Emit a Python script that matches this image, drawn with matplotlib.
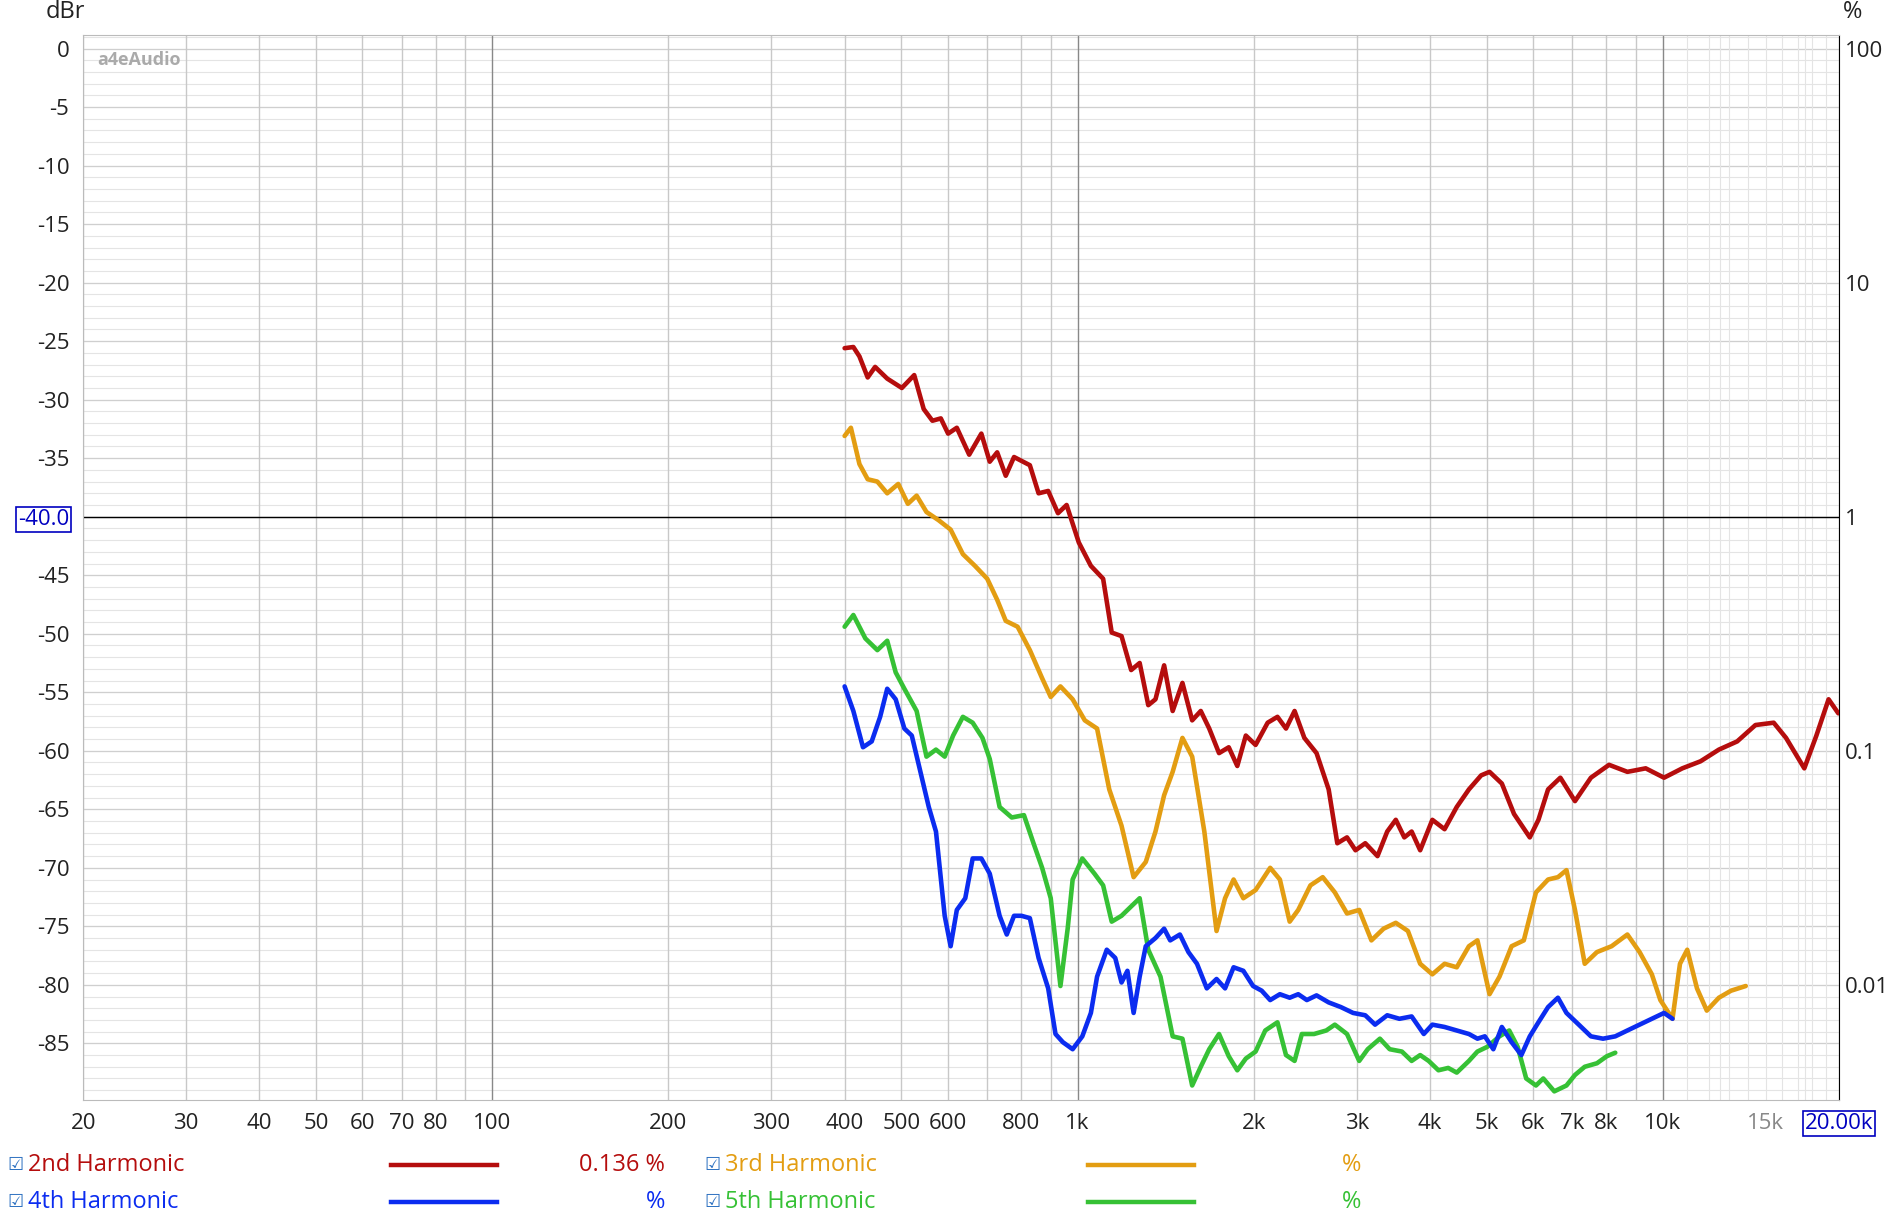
import matplotlib.pyplot as plt
import numpy as np
from matplotlib.ticker import FixedLocator, NullLocator

# harmonic distortion readings (Hz, dBr)
h2_freq = [400, 414, 424, 438, 451, 473, 501, 526, 546, 565, 584, 601, 622, 653, 685, 708, 729, 754, 779, 829,
           858, 891, 926, 958, 1005, 1054, 1106, 1144, 1189, 1235, 1277, 1321, 1359, 1406, 1454, 1511, 1570, 1624, 1679, 1745,
           1813, 1875, 1939, 2015, 2113, 2196, 2271, 2349, 2441, 2561, 2686, 2779, 2887, 2985, 3102, 3255, 3382, 3498, 3617, 3723,
           3850, 4039, 4238, 4446, 4664, 4894, 5058, 5309, 5570, 5926, 6131, 6368, 6683, 7079, 7537, 8095, 8700, 9350, 10050, 10800,
           11600, 12470, 13400, 14400, 15470, 16240, 17450, 18300, 19200, 19950]
h2_db = [-25.6, -25.5, -26.3, -28.1, -27.2, -28.2, -29.0, -27.9, -30.8, -31.8, -31.6, -32.9, -32.4, -34.7, -32.9, -35.3, -34.5, -36.5, -34.9, -35.6,
         -38.0, -37.8, -39.7, -39.0, -42.2, -44.2, -45.3, -49.9, -50.2, -53.1, -52.5, -56.1, -55.6, -52.7, -56.6, -54.2, -57.4, -56.6, -58.1, -60.2,
         -59.7, -61.3, -58.7, -59.5, -57.6, -57.1, -58.1, -56.6, -58.9, -60.2, -63.3, -67.9, -67.4, -68.5, -67.9, -69.0, -66.9, -65.9, -67.4, -66.9,
         -68.5, -65.9, -66.7, -64.8, -63.3, -62.1, -61.8, -62.8, -65.4, -67.4, -65.9, -63.3, -62.3, -64.3, -62.3, -61.2, -61.8, -61.5, -62.3, -61.5,
         -60.9, -59.9, -59.2, -57.8, -57.6, -58.9, -61.5, -58.7, -55.6, -56.8]

h3_freq = [400, 410, 424, 438, 455, 473, 494, 513, 531, 552, 579, 607, 637, 668, 701, 729, 754, 790, 829, 870,
           900, 935, 981, 1029, 1080, 1133, 1189, 1247, 1308, 1359, 1406, 1454, 1511, 1570, 1647, 1728, 1787, 1848, 1920, 2015,
           2134, 2217, 2304, 2383, 2500, 2624, 2752, 2887, 3029, 3178, 3334, 3498, 3669, 3850, 4039, 4238, 4446, 4664, 4823, 5058,
           5260, 5517, 5788, 6072, 6368, 6620, 6846, 7079, 7356, 7718, 8176, 8700, 9128, 9578, 9904, 10390, 10700, 11010, 11440, 11890,
           12470, 13080, 13860]
h3_db = [-33.1, -32.4, -35.5, -36.8, -37.0, -38.0, -37.2, -38.9, -38.2, -39.6, -40.3, -41.1, -43.2, -44.2, -45.3, -47.1, -48.9, -49.4, -51.4, -53.8,
         -55.4, -54.5, -55.6, -57.4, -58.1, -63.3, -66.4, -70.8, -69.5, -66.9, -63.8, -61.8, -58.9, -60.5, -66.9, -75.4, -72.6, -71.0, -72.6, -71.9,
         -70.0, -71.0, -74.6, -73.6, -71.5, -70.8, -72.1, -73.9, -73.6, -76.2, -75.2, -74.7, -75.4, -78.2, -79.1, -78.2, -78.5, -76.7, -76.2, -80.8,
         -79.3, -76.7, -76.2, -72.1, -71.0, -70.8, -70.2, -73.6, -78.2, -77.2, -76.7, -75.7, -77.2, -79.1, -81.3, -82.9, -78.2, -77.0, -80.3, -82.2,
         -81.1, -80.5, -80.1]

h4_freq = [400, 414, 430, 445, 460, 473, 489, 506, 521, 539, 557, 573, 593, 607, 622, 643, 662, 685, 708, 736,
           757, 779, 802, 829, 858, 891, 917, 944, 981, 1019, 1054, 1080, 1122, 1160, 1189, 1217, 1247, 1277, 1308, 1359,
           1406, 1440, 1496, 1547, 1600, 1663, 1728, 1787, 1848, 1920, 1995, 2064, 2134, 2217, 2304, 2383, 2465, 2561, 2686, 2818,
           2957, 3102, 3224, 3382, 3548, 3723, 3905, 4039, 4238, 4446, 4664, 4823, 4965, 5134, 5309, 5517, 5733, 5926, 6131, 6368,
           6620, 6846, 7185, 7537, 7905, 8295, 8700, 9128, 9578, 10050, 10390]
h4_db = [-54.5, -56.6, -59.7, -59.2, -57.1, -54.7, -55.6, -58.1, -58.7, -61.8, -64.8, -66.9, -74.1, -76.7, -73.6, -72.6, -69.2, -69.2, -70.5, -74.1,
         -75.7, -74.1, -74.1, -74.3, -77.7, -80.3, -84.2, -84.9, -85.5, -84.4, -82.4, -79.3, -77.0, -77.7, -79.8, -78.8, -82.4, -79.3, -76.7, -76.0,
         -75.2, -76.2, -75.7, -77.2, -78.2, -80.3, -79.5, -80.3, -78.5, -78.8, -80.1, -80.5, -81.3, -80.8, -81.1, -80.8, -81.3, -80.9, -81.5, -81.9,
         -82.4, -82.6, -83.4, -82.6, -82.9, -82.7, -84.2, -83.4, -83.6, -83.9, -84.2, -84.6, -84.4, -85.5, -83.6, -84.9, -86.0, -84.4, -83.2, -81.9,
         -81.1, -82.4, -83.4, -84.4, -84.6, -84.4, -83.9, -83.4, -82.9, -82.4, -82.9]

h5_freq = [400, 414, 434, 455, 473, 489, 506, 531, 552, 573, 593, 613, 637, 662, 688, 708, 736, 772, 810, 841,
           870, 900, 935, 962, 981, 1019, 1069, 1106, 1144, 1189, 1235, 1277, 1321, 1386, 1454, 1511, 1570, 1624, 1679, 1745,
           1813, 1875, 1939, 2015, 2093, 2196, 2271, 2349, 2417, 2536, 2661, 2752, 2887, 3029, 3132, 3286, 3415, 3583, 3723, 3850,
           3981, 4137, 4299, 4446, 4664, 4823, 5012, 5260, 5465, 5650, 5843, 6072, 6249, 6526, 6846, 7079, 7356, 7718, 8023, 8295]
h5_db = [-49.4, -48.4, -50.4, -51.4, -50.6, -53.3, -54.7, -56.6, -60.5, -59.9, -60.5, -58.7, -57.1, -57.6, -58.9, -60.7, -64.8, -65.7, -65.5, -67.9,
         -70.0, -72.6, -80.1, -75.2, -71.0, -69.2, -70.5, -71.5, -74.6, -74.1, -73.3, -72.6, -77.0, -79.3, -84.4, -84.6, -88.6, -87.0, -85.5, -84.2,
         -86.1, -87.3, -86.3, -85.7, -83.9, -83.2, -86.0, -86.5, -84.2, -84.2, -83.9, -83.4, -84.2, -86.5, -85.5, -84.6, -85.5, -85.7, -86.5, -86.0,
         -86.5, -87.3, -87.1, -87.5, -86.5, -85.7, -85.3, -84.4, -83.9, -85.3, -88.0, -88.6, -88.0, -89.1, -88.6, -87.7, -87.0, -86.7, -86.1, -85.8]

x_ticks = [20, 30, 40, 50, 60, 70, 80, 100, 200, 300, 400, 500, 600, 800, 1000, 2000, 3000, 4000, 5000, 6000, 7000, 8000, 10000, 15000, 20000]
x_labels = ['20', '30', '40', '50', '60', '70', '80', '100', '200', '300', '400', '500', '600', '800', '1k',
            '2k', '3k', '4k', '5k', '6k', '7k', '8k', '10k', '15k', '20.00k']
y_ticks = list(range(0, -90, -5))
pct_ticks = [100, 10, 1, 0.1, 0.01]

c_red = '#b50d0d'
c_orange = '#e39d12'
c_blue = '#0b2cf0'
c_green = '#36c135'

plt.rcParams['font.family'] = ['Open Sans', 'DejaVu Sans']

fig = plt.figure(figsize=(18.9, 12.19), dpi=100)
ax = fig.add_axes([0.044, 0.098, 0.929, 0.873])
ax.set_xscale('log')
ax.set_xlim(20, 20000)
ax.set_ylim(-89.8, 1.13)

# grid
for d in np.arange(-89, 2, 1):
    ax.axhline(d, color='#e4e4e4', lw=0.8, zorder=0)
for d in y_ticks:
    ax.axhline(d, color='#cfcfcf', lw=0.9, zorder=0)
vgrid = [f * m for m in (10, 100, 1000) for f in range(1, 10)] + [10000, 20000]
for f in vgrid:
    if 20 <= f <= 20000:
        dark = f in (100, 1000, 10000)
        ax.axvline(f, color='#888888' if dark else '#c8c8c8', lw=1.0, zorder=0)
for f in [11000, 12000, 12500, 13000, 14000, 15000, 16000, 17000, 17500, 18000, 19000]:
    ax.axvline(f, color='#e4e4e4', lw=0.8, zorder=0)
ax.axhline(-40, color='black', lw=1.0, zorder=1)

lw = 3.3
kw = dict(lw=lw, solid_joinstyle='round', solid_capstyle='round')
ax.plot(h2_freq, h2_db, color=c_red, zorder=3, **kw)
ax.plot(h3_freq, h3_db, color=c_orange, zorder=3, **kw)
ax.plot(h5_freq, h5_db, color=c_green, zorder=3, **kw)
ax.plot(h4_freq, h4_db, color=c_blue, zorder=4, **kw)

ax.xaxis.set_major_locator(FixedLocator(x_ticks))
ax.xaxis.set_minor_locator(NullLocator())
ax.set_xticklabels(x_labels)
ax.set_yticks(y_ticks)
ax.set_yticklabels([str(v) if v != -40 else '-40.0' for v in y_ticks])
ax.tick_params(length=0, labelsize=16, colors='#222222', pad=10)
for lab in ax.get_xticklabels():
    if lab.get_text() == '15k':
        lab.set_color('#888888')
    if lab.get_text() == '20.00k':
        lab.set_color('#0000c0')
        lab.set_bbox(dict(facecolor='white', edgecolor='#0000c0', pad=1.5, lw=1.2))
for lab in ax.get_yticklabels():
    if lab.get_text() == '-40.0':
        lab.set_color('#0000c0')
        lab.set_bbox(dict(facecolor='white', edgecolor='#0000c0', pad=1.5, lw=1.2))
for s in ax.spines.values():
    s.set_color('#bbbbbb')
ax.spines['right'].set_color('black')

# right % axis
ax2 = ax.twinx()
ax2.set_yscale('log')
ax2.set_ylim(100 * 10 ** (-89.8 / 20), 100 * 10 ** (1.13 / 20))
ax2.yaxis.set_major_locator(FixedLocator(pct_ticks))
ax2.yaxis.set_minor_locator(NullLocator())
ax2.set_yticklabels(['100', '10', '1', '0.1', '0.01'])
ax2.tick_params(length=0, labelsize=16, colors='#222222', pad=4)
for s in ax2.spines.values():
    s.set_visible(False)

fig.text(0.024, 0.99, 'dBr', fontsize=17, color='#222222', va='center')
fig.text(0.975, 0.99, '%', fontsize=17, color='#222222', va='center')
ax.text(0.008, 0.985, 'a4eAudio', transform=ax.transAxes, fontsize=13, color='#aaaaaa',
        fontweight='bold', va='top')

# legend rows
rows = [(0.044, [('2nd Harmonic', c_red, '0.136 %'), ('3rd Harmonic', c_orange, '%')]),
        (0.014, [('4th Harmonic', c_blue, '%'), ('5th Harmonic', c_green, '%')])]
for yy, items in rows:
    for i, (name, col, val) in enumerate(items):
        x0 = 0.004 + i * 0.3685
        fig.text(x0, yy, '\u2611', fontsize=13, color='#2a6fc0', va='center', family=['DejaVu Sans'])
        fig.text(x0 + 0.011, yy, name, fontsize=17, color=col, va='center')
        fig.add_artist(plt.Line2D([x0 + 0.203, x0 + 0.259], [yy, yy], color=col, lw=3.2))
        fig.text(x0 + 0.348, yy, val, fontsize=17, color=col, va='center', ha='right')

fig.savefig('out.png', dpi=100)
